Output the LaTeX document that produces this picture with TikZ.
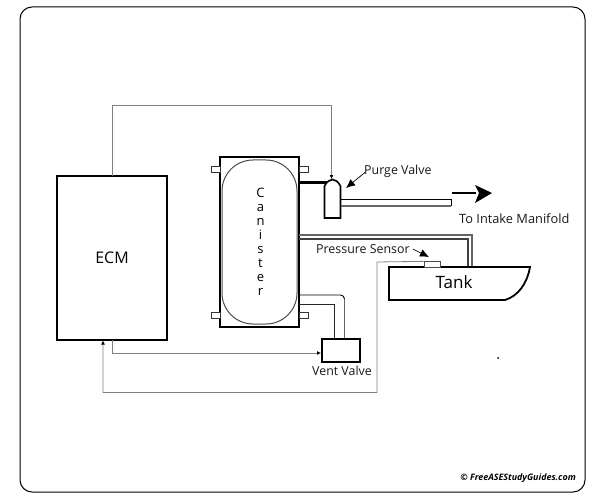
\documentclass[tikz,border=0pt]{standalone}
\usepackage{fontspec}
\setmainfont{Open Sans}
\usetikzlibrary{arrows.meta,positioning,calc}
\definecolor{wiregray}{gray}{0.5}
\tikzset{
  blk/.style={draw=black,line width=2pt,fill=white,inner sep=0pt},
  tabbox/.style={draw=black!80,line width=1pt,fill=white,inner sep=0pt,minimum width=9pt,minimum height=6pt},
  wire/.style={draw=wiregray,line width=0.8pt},
  wiretip/.style={wire,-{Latex[length=4pt,width=4pt,black]}},
  lbl/.style={inner sep=0pt,font=\fontsize{12.4}{14}\selectfont,text=black!90},
  pointer/.style={draw=black,line width=0.7pt,-{Latex[length=9pt,width=8pt]}}
}
\begin{document}
\begin{tikzpicture}[x=1pt,y=-1pt]
\useasboundingbox (0,0) rectangle (605,500);
\fill[white] (0,0) rectangle (605,500);
\draw[black,line width=1pt,rounded corners=12pt] (20,7) rectangle (585,492);

\coordinate (pipeTR) at (451,199);
\coordinate (pipeBR) at (451,206);
\coordinate (arrS) at (452,193);
\coordinate (arrE) at (492,193);

\node[blk,minimum width=110pt,minimum height=164pt,font=\fontsize{16}{18}\selectfont] (ecm) at (112,258) {ECM};
\node[blk,minimum width=79pt,minimum height=170pt] (can) at (259.5,242) {};
\node[tabbox] (t1) at (215.5,169) {};
\node[tabbox] (t2) at (303.5,169) {};
\node[tabbox] (t3) at (215.5,315) {};
\node[tabbox] (t4) at (303.5,315) {};
\draw[draw=black!70,line width=1pt,fill=white,rounded corners=31pt] (222,160) rectangle (297,324);
\node[font=\fontsize{13}{14}\selectfont,align=center,inner sep=0pt] (cantxt) at (260.5,241.5) {C\\a\\n\\i\\s\\t\\e\\r};

% purge valve
\draw[blk,line width=1.6pt] (324.5,186) -- (324.5,218) -- (340.5,218) -- (340.5,186)
  .. controls (338,182) and (336,179.5) .. (332.5,179.5) .. controls (329,179.5) and (327,182) .. (324.5,186);
\coordinate (pvTop) at (331.5,179);
\coordinate (pvIn) at (327,182);
\coordinate (canR) at (299,182);
\draw[black,line width=3pt] (canR) -- (pvIn);

% purge pipe
\coordinate (pvR1) at (341,199);
\coordinate (pvR2) at (341,206);
\draw[draw=black,line width=0.9pt] (pvR1) -- (pipeTR) -- (pipeBR);
\draw[draw=black!60,line width=1.3pt] (pipeBR) -- (pvR2);
\draw[black,line width=1.5pt] (arrS) -- (476,193);
\fill[black] (475,185) -- (arrE) -- (475,203) -- (479,193) -- cycle;

% wires
\coordinate (w1) at (112,105);
\coordinate (w2) at (331.5,105);
\draw[wiretip] (112,176) -- (w1) -- (w2) -- (pvTop);

\coordinate (w3) at (112,353);
\node[blk,minimum width=38pt,minimum height=23pt] (vent) at (341,350.5) {};
\draw[wiretip] (112,340) -- (w3) -- (vent.west |- w3);

% tank
\draw[blk,line width=1.8pt] (389,267) -- (530,267) .. controls (527,284) and (518,296) .. (505,300) -- (389,300) -- cycle;
\node[font=\fontsize{17}{20}\selectfont,inner sep=0pt] (tanktxt) at (454,282) {Tank};
\node[draw=black!70,line width=0.8pt,fill=white,minimum width=16pt,minimum height=5.5pt,inner sep=0pt] (sens) at (432,264.5) {};

\coordinate (w4) at (377,262);
\coordinate (w5) at (377,392.5);
\coordinate (w6) at (103,392.5);
\draw[wiretip] (sens.north west) -- (w4) -- (w5) -- (w6) -- (103,340.5);

% canister to tank hoses
\coordinate (p1) at (299,235);
\coordinate (p2) at (472,235);
\coordinate (p3) at (472,266);
\coordinate (p4) at (299,239);
\coordinate (p5) at (468,239);
\coordinate (p6) at (468,266);
\draw[draw=black!60,line width=1.1pt] (p1) -- (p2) -- (p3);
\draw[draw=black!75,line width=1.1pt] (p4) -- (p5) -- (p6);

% canister to vent hoses
\coordinate (v1) at (299,295);
\coordinate (v3) at (344.5,338);
\coordinate (v4) at (299,304);
\coordinate (v5) at (334,304);
\coordinate (v6) at (334,338);
\draw[draw=black,line width=0.9pt] (v1) -- (340.5,295) arc[start angle=90,end angle=0,radius=4pt];
\draw[draw=black!60,line width=1.4pt] (344.5,299) -- (v3);
\draw[draw=black!85,line width=0.9pt] (v4) -- (v5) -- (v6);

% labels
\node[lbl,anchor=west] (purge) at (364,171) {Purge Valve};
\node[lbl,anchor=west,font=\fontsize{12.8}{14}\selectfont] (intake) at (459,219) {To Intake Manifold};
\node[lbl,anchor=west] (press) at (316,249) {Pressure Sensor};
\node[lbl,anchor=north] (venttxt) at (342,366) {Vent Valve};
\draw[pointer] (purge.south west) ++(1,-5) coordinate (pp1) (pp1) -- (346,188);
\draw[pointer] (press.east) ++(3,0) coordinate (ps1) (ps1) -- (429,257);

\fill[black] (498,358) circle (1pt);
\node[inner sep=0pt,anchor=east,font=\fontsize{8.9}{10}\selectfont\bfseries\itshape] (copy) at (576,478) {© FreeASEStudyGuides.com};
\end{tikzpicture}
\end{document}
